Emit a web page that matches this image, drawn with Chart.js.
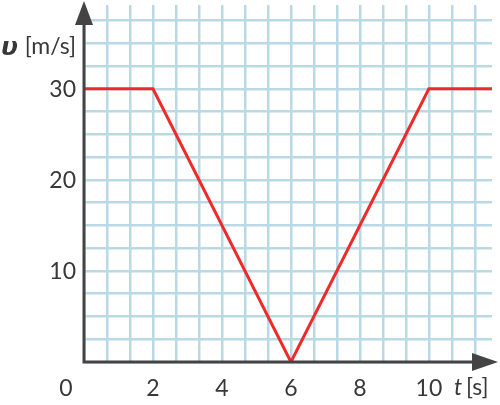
<!DOCTYPE html>
<html>
<head>
<meta charset="utf-8">
<script src="https://cdn.jsdelivr.net/npm/chart.js@4"></script>
<style>
  html, body { margin: 0; padding: 0; background: #fff; }
  #wrap { width: 500px; height: 405px; }
</style>
</head>
<body>
<div id="wrap"><canvas id="vt"></canvas></div>
<script>
// data
const tValues = [0, 2, 6, 10, 11.83];
const vValues = [30, 30, 0, 30, 30];
const xTickValues = [0, 2, 4, 6, 8, 10];
const yTickValues = [10, 20, 30];
const xMax = 11.83;
const yMax = 39.2;

// grid every 2/3 s and every 2.5 m/s
let xGrid = [];
for (let k = 0; k <= 17; k++) xGrid.push(k * 2 / 3);
let yGrid = [];
for (let k = 0; k <= 15; k++) yGrid.push(k * 2.5);

let textColor = "#383838";
let axisColor = "#444444";
let font = "Lato, 'Open Sans', sans-serif";

const axesPlugin = {
  id: "axesPlugin",
  afterDatasetsDraw(chart) {
    let c = chart.ctx;
    let xs = chart.scales.x;
    let ys = chart.scales.y;
    let x0 = xs.getPixelForValue(0);
    let y0 = ys.getPixelForValue(0);
    c.save();
    // axis lines
    c.strokeStyle = axisColor;
    c.lineWidth = 3;
    c.beginPath();
    c.moveTo(x0, y0 + 1.5);
    c.lineTo(x0, 20);
    c.moveTo(x0 - 1.5, y0);
    c.lineTo(478, y0);
    c.stroke();
    // arrow heads
    c.fillStyle = axisColor;
    c.beginPath();
    c.moveTo(x0, 1);
    c.lineTo(x0 - 9, 25);
    c.lineTo(x0 + 9, 25);
    c.closePath();
    c.fill();
    c.beginPath();
    c.moveTo(498, y0);
    c.lineTo(472, y0 - 9);
    c.lineTo(472, y0 + 9);
    c.closePath();
    c.fill();

    // tick labels
    c.fillStyle = textColor;
    c.font = "23px " + font;
    c.textBaseline = "middle";
    c.textAlign = "center";
    xTickValues.forEach(function (v) {
      let px = xs.getPixelForValue(v);
      if (v === 0) px -= 18;
      c.fillText(String(v), px, 389);
    });
    c.textAlign = "right";
    yTickValues.forEach(function (v) {
      c.fillText(String(v), 76, ys.getPixelForValue(v) + 1);
    });

    // axis titles
    c.textAlign = "left";
    c.font = "italic 23px " + font;
    c.fillText("t", 454, 388);
    c.font = "23px " + font;
    c.fillText("[s]", 466, 388);

    c.font = "italic bold 25px 'DejaVu Sans', sans-serif";
    c.fillText("υ", 1, 48);
    c.font = "23px " + font;
    c.textAlign = "right";
    c.fillText("[m/s]", 76, 47);
    c.restore();
  }
};

let chartData = {
  datasets: [
    {
      data: tValues.map(function (t, i) { return { x: t, y: vValues[i] }; }),
      borderColor: "#ee2b2b",
      borderWidth: 3,
      pointRadius: 0,
      fill: false,
      tension: 0
    }
  ]
};

let gridOpts = { color: "#b9d9e5", lineWidth: 2.5, drawTicks: false };

let ctx = new Chart(document.getElementById("vt"), {
  type: "line",
  data: chartData,
  options: {
    responsive: true,
    maintainAspectRatio: false,
    animation: false,
    layout: { padding: { left: 84, right: 8, top: 5, bottom: 43 } },
    plugins: { legend: { display: false }, tooltip: { enabled: false } },
    scales: {
      x: {
        type: "linear",
        min: 0,
        max: xMax,
        grid: gridOpts,
        border: { display: false },
        ticks: { display: false },
        afterBuildTicks: function (axis) {
          axis.ticks = xGrid.map(function (v) { return { value: v }; });
        }
      },
      y: {
        type: "linear",
        min: 0,
        max: yMax,
        grid: gridOpts,
        border: { display: false },
        ticks: { display: false },
        afterBuildTicks: function (axis) {
          axis.ticks = yGrid.map(function (v) { return { value: v }; });
        }
      }
    }
  },
  plugins: [axesPlugin]
});
</script>
</body>
</html>
